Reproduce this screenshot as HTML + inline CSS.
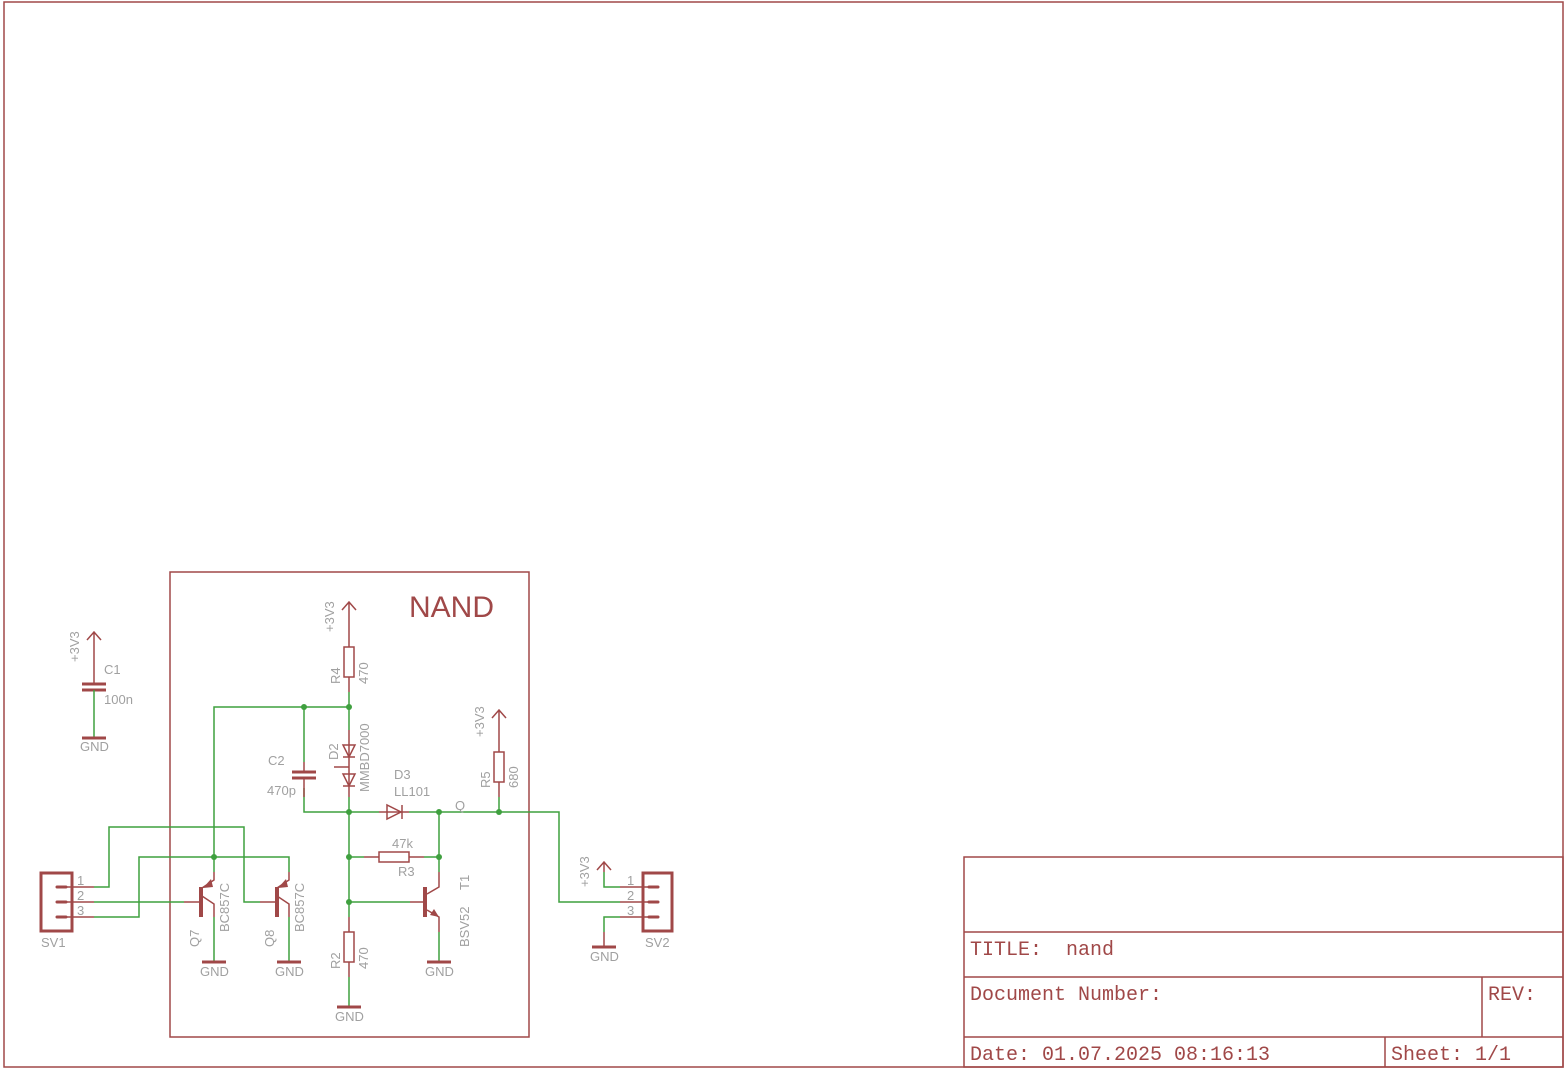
<!DOCTYPE html>
<html><head><meta charset="utf-8"><style>
html,body{margin:0;padding:0;background:#fff}
svg{display:block}
.r{stroke:#a04848;fill:none;stroke-width:1.5}
.rt{stroke:#a04848;fill:none;stroke-width:3}
.g{stroke:#3fa03f;fill:none;stroke-width:1.5}
.t{fill:#a0a0a0;font-family:"Liberation Sans",sans-serif;font-size:13px}
.m{fill:#a04848;font-family:"Liberation Mono",monospace;font-size:20px;white-space:pre}
.n{fill:#3fa03f}
</style></head><body>
<svg width="1567" height="1072" viewBox="0 0 1567 1072">
<rect x="4" y="2" width="1559" height="1065" class="r"/>
<!-- title block -->
<rect x="964" y="857" width="599" height="210" class="r"/>
<line x1="964" y1="932" x2="1563" y2="932" class="r"/>
<line x1="964" y1="977" x2="1563" y2="977" class="r"/>
<line x1="964" y1="1037" x2="1563" y2="1037" class="r"/>
<line x1="1482" y1="977" x2="1482" y2="1037" class="r"/>
<line x1="1385" y1="1037" x2="1385" y2="1067" class="r"/>
<text x="970" y="955" class="m">TITLE:&#160;&#160;nand</text>
<text x="970" y="1000" class="m">Document Number:</text>
<text x="1488" y="1000" class="m">REV:</text>
<text x="970" y="1060" class="m">Date: 01.07.2025 08:16:13</text>
<text x="1391" y="1060" class="m">Sheet: 1/1</text>
<!-- NAND frame -->
<rect x="170" y="572" width="359" height="465" class="r"/>
<text x="409" y="617" fill="#a04848" font-family="Liberation Sans,sans-serif" font-size="30">NAND</text>

<!-- C1 -->
<path d="M87,640 L94,632 L101,640 M94,632 V684" class="r"/>
<path d="M82,684 H106 M82,690 H106" class="rt"/>
<path d="M94,690 V738" class="g"/>
<path d="M82,738 H106" class="rt"/>
<text x="79" y="662" class="t" transform="rotate(-90 79 662)">+3V3</text>
<text x="104" y="674" class="t">C1</text>
<text x="104" y="704" class="t">100n</text>
<text x="80" y="751" class="t">GND</text>

<!-- SV1 -->
<rect x="41" y="873" width="31" height="58" class="rt"/>
<path d="M57,887 H66 M57,902 H66 M57,917 H66" class="rt" stroke-linecap="round"/>
<path d="M66,887 H94 M66,902 H94 M66,917 H94" class="r"/>
<text x="77" y="885" class="t" font-size="11">1</text>
<text x="77" y="900" class="t" font-size="11">2</text>
<text x="77" y="915" class="t" font-size="11">3</text>
<text x="41" y="947" class="t">SV1</text>
<path d="M94,887 H109 V827 H244 V902 H260" class="g"/>
<path d="M94,902 H184" class="g"/>
<path d="M94,917 H139 V857 H289 V872" class="g"/>
<path d="M214,872 V707 H349" class="g"/>

<!-- Q7 -->
<path d="M184,902 H201 M214,872 V880 L202,888 M202,896 L214,904 V917" class="r"/>
<path d="M201,887 V917" stroke="#a04848" stroke-width="4"/>
<polygon points="203,888 211,879 213,887" fill="#a04848"/>
<path d="M214,917 V962" class="g"/>
<path d="M202,962 H226" class="rt"/>
<text x="200" y="976" class="t">GND</text>
<text x="229" y="932" class="t" transform="rotate(-90 229 932)">BC857C</text>
<text x="199" y="947" class="t" transform="rotate(-90 199 947)">Q7</text>

<!-- Q8 -->
<path d="M260,902 H277 M289,872 V880 L277,888 M277,896 L289,904 V917" class="r"/>
<path d="M277,887 V917" stroke="#a04848" stroke-width="4"/>
<polygon points="278,888 286,879 288,887" fill="#a04848"/>
<path d="M289,917 V962" class="g"/>
<path d="M277,962 H301" class="rt"/>
<text x="275" y="976" class="t">GND</text>
<text x="304" y="932" class="t" transform="rotate(-90 304 932)">BC857C</text>
<text x="274" y="947" class="t" transform="rotate(-90 274 947)">Q8</text>

<!-- R4 -->
<path d="M342,610 L349,602 L356,610 M349,602 V647 M349,677 V692" class="r"/>
<rect x="344" y="647" width="10" height="30" class="r" stroke-width="2"/>
<path d="M349,692 V707" class="g"/>
<text x="334" y="632" class="t" transform="rotate(-90 334 632)">+3V3</text>
<text x="340" y="684" class="t" transform="rotate(-90 340 684)">R4</text>
<text x="368" y="684" class="t" transform="rotate(-90 368 684)">470</text>

<!-- D2 -->
<path d="M349,707 V730" class="g"/>
<path d="M349,730 V797" class="r"/>
<path d="M343,745 H355 L349,757 Z M343,757 H355 M343,774 H355 L349,786 Z M343,786 H355" class="r" stroke-width="2"/>
<path d="M334,767 H349" class="r"/>
<path d="M349,797 V902" class="g"/>
<text x="338" y="760" class="t" transform="rotate(-90 338 760)">D2</text>
<text x="369" y="792" class="t" transform="rotate(-90 369 792)">MMBD7000</text>

<!-- C2 -->
<path d="M304,707 V762 M304,788 V797" class="g"/>
<path d="M304,762 V772 M304,778 V797" class="r"/>
<path d="M292,772 H316 M292,778 H316" class="rt"/>
<path d="M304,797 V812 H379" class="g"/>
<text x="268" y="765" class="t">C2</text>
<text x="267" y="795" class="t">470p</text>

<!-- D3 -->
<path d="M379,812 H409" class="r"/>
<path d="M387,805 V819 L401,812 Z M402,805 V819" class="r" stroke-width="2"/>
<path d="M409,812 H559 V902 H620" class="g"/>
<text x="394" y="779" class="t">D3</text>
<text x="394" y="796" class="t">LL101</text>
<text x="455" y="810" class="t">Q</text>

<!-- R5 -->
<path d="M492,718 L499,710 L506,718 M499,710 V752 M499,782 V797" class="r"/>
<rect x="494" y="752" width="10" height="30" class="r" stroke-width="2"/>
<path d="M499,797 V812" class="g"/>
<text x="484" y="737" class="t" transform="rotate(-90 484 737)">+3V3</text>
<text x="490" y="788" class="t" transform="rotate(-90 490 788)">R5</text>
<text x="518" y="788" class="t" transform="rotate(-90 518 788)">680</text>

<!-- R3 -->
<path d="M349,857 H364 M424,857 H439" class="g"/>
<path d="M364,857 H379 M409,857 H424" class="r"/>
<rect x="379" y="852" width="30" height="10" class="r" stroke-width="2"/>
<text x="392" y="848" class="t">47k</text>
<text x="398" y="876" class="t">R3</text>
<path d="M439,812 V872" class="g"/>

<!-- T1 -->
<path d="M439,872 V887 L427,894 M427,910 L439,917 V932" class="r"/>
<path d="M425,887 V917" stroke="#a04848" stroke-width="4"/>
<polygon points="439,917 430,915 434,909" fill="#a04848"/>
<path d="M349,902 H410" class="g"/>
<path d="M410,902 H425" class="r"/>
<path d="M439,932 V962" class="g"/>
<path d="M427,962 H451" class="rt"/>
<text x="425" y="976" class="t">GND</text>
<text x="469" y="890" class="t" transform="rotate(-90 469 890)">T1</text>
<text x="469" y="947" class="t" transform="rotate(-90 469 947)">BSV52</text>

<!-- R2 -->
<path d="M349,902 V917" class="g"/>
<path d="M349,917 V932 M349,962 V977" class="r"/>
<rect x="344" y="932" width="10" height="30" class="r" stroke-width="2"/>
<path d="M349,977 V1007" class="g"/>
<path d="M337,1007 H361" class="rt"/>
<text x="335" y="1021" class="t">GND</text>
<text x="340" y="969" class="t" transform="rotate(-90 340 969)">R2</text>
<text x="368" y="969" class="t" transform="rotate(-90 368 969)">470</text>

<!-- SV2 -->
<rect x="643" y="873" width="29" height="58" class="rt"/>
<path d="M649,887 H658 M649,902 H658 M649,917 H658" class="rt" stroke-linecap="round"/>
<path d="M620,887 H649 M620,902 H649 M620,917 H649" class="r"/>
<text x="627" y="885" class="t" font-size="11">1</text>
<text x="627" y="900" class="t" font-size="11">2</text>
<text x="627" y="915" class="t" font-size="11">3</text>
<text x="645" y="947" class="t">SV2</text>
<path d="M597,870 L604,862 L611,870 M604,862 V872" class="r"/>
<path d="M604,872 V887 H620 M620,917 H604 V932" class="g"/>
<path d="M604,932 V947" class="r"/>
<path d="M592,947 H616" class="rt"/>
<text x="590" y="961" class="t">GND</text>
<text x="589" y="887" class="t" transform="rotate(-90 589 887)">+3V3</text>

<!-- junctions -->
<g class="n">
<circle cx="214" cy="857" r="3"/><circle cx="304" cy="707" r="3"/><circle cx="349" cy="707" r="3"/>
<circle cx="349" cy="812" r="3"/><circle cx="349" cy="857" r="3"/><circle cx="349" cy="902" r="3"/>
<circle cx="439" cy="812" r="3"/><circle cx="439" cy="857" r="3"/><circle cx="499" cy="812" r="3"/>
</g>
</svg>
</body></html>
